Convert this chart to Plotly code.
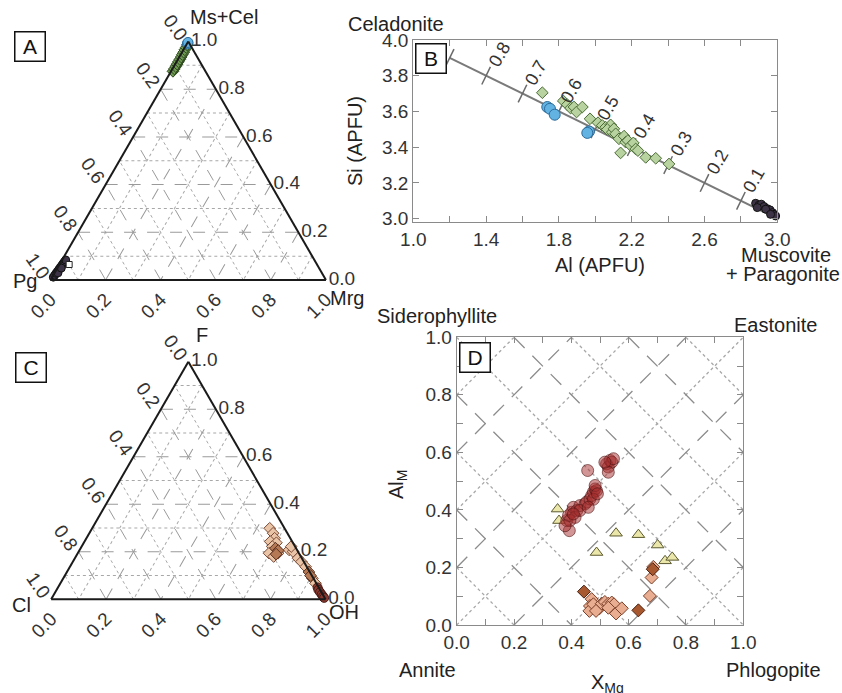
import plotly.graph_objects as go

W, H = 842, 693
FONT = "Liberation Sans, Arial, sans-serif"

# ---------------- Panel A (ternary: a = Ms+Cel, b = Pg, c = Mrg) ----------------
A_phe_mscel = [0.875, 0.885, 0.895, 0.905, 0.915, 0.925, 0.935, 0.945, 0.955, 0.965, 0.975, 0.985]
A_phe_pg    = [0.118, 0.108, 0.098, 0.088, 0.078, 0.068, 0.058, 0.049, 0.039, 0.030, 0.020, 0.011]
A_phe_mrg   = [0.007, 0.007, 0.007, 0.007, 0.007, 0.007, 0.007, 0.006, 0.006, 0.005, 0.005, 0.004]

A_blue_mscel = [0.993, 0.990, 0.996]
A_blue_pg    = [0.005, 0.008, 0.003]
A_blue_mrg   = [0.002, 0.002, 0.001]

A_par_mscel = [0.012, 0.020, 0.028, 0.036, 0.044, 0.052, 0.060, 0.068, 0.076, 0.084, 0.030, 0.050]
A_par_pg    = [0.984, 0.975, 0.966, 0.957, 0.948, 0.939, 0.930, 0.921, 0.912, 0.903, 0.958, 0.936]
A_par_mrg   = [0.004, 0.005, 0.006, 0.007, 0.008, 0.009, 0.010, 0.011, 0.012, 0.013, 0.012, 0.014]

A_open_mscel = [0.065]
A_open_pg    = [0.900]
A_open_mrg   = [0.035]

# ---------------- Panel B (Si vs Al, APFU) ----------------
B_phe_al = [1.709, 1.824, 1.846, 1.864, 1.883, 1.897, 1.929, 1.971, 2.015, 2.038, 2.057, 2.084,
            2.066, 2.093, 2.102, 2.112, 2.130, 2.139, 2.158, 2.167, 2.179, 2.194, 2.209, 2.222,
            2.234, 2.277, 2.332, 2.405]
B_phe_si = [3.705, 3.659, 3.638, 3.619, 3.625, 3.597, 3.625, 3.559, 3.537, 3.522, 3.512, 3.525,
            3.499, 3.484, 3.503, 3.475, 3.447, 3.368, 3.462, 3.428, 3.437, 3.409, 3.424, 3.390,
            3.381, 3.343, 3.338, 3.306]

B_blue_al = [1.736, 1.751, 1.777, 1.965, 1.956]
B_blue_si = [3.625, 3.615, 3.582, 3.488, 3.480]

B_par_al = [2.881, 2.899, 2.912, 2.927, 2.945, 2.960, 2.973, 2.982, 2.991, 2.890, 2.936, 2.963]
B_par_si = [3.086, 3.075, 3.081, 3.068, 3.056, 3.049, 3.034, 3.024, 3.015, 3.062, 3.053, 3.024]

# Tschermak reference line (celadonite fraction marks)
B_line_al = [1.2, 3.0]
B_line_si = [3.9, 3.0]
B_cel_marks = [0.9, 0.8, 0.7, 0.6, 0.5, 0.4, 0.3, 0.2, 0.1]
B_cel_labels = [0.8, 0.7, 0.6, 0.5, 0.4, 0.3, 0.2, 0.1]

B_xticks = [1.0, 1.4, 1.8, 2.2, 2.6, 3.0]
B_yticks = [3.0, 3.2, 3.4, 3.6, 3.8, 4.0]

# ---------------- Panel C (ternary: a = F, b = Cl, c = OH) ----------------
C_lt_f  = [0.299, 0.278, 0.257, 0.243, 0.238, 0.222, 0.208, 0.194, 0.194, 0.180, 0.208, 0.201,
           0.222, 0.173, 0.158, 0.137, 0.088, 0.067]
C_lt_cl = [0.054, 0.052, 0.057, 0.080, 0.060, 0.083, 0.081, 0.109, 0.076, 0.099, 0.029, 0.018,
           0.014, 0.014, 0.009, 0.004, 0.004, 0.003]
C_lt_oh = [0.647, 0.670, 0.686, 0.677, 0.702, 0.695, 0.711, 0.697, 0.730, 0.721, 0.763, 0.781,
           0.764, 0.813, 0.833, 0.859, 0.908, 0.930]

C_md_f  = [0.215, 0.205, 0.190, 0.115, 0.100]
C_md_cl = [0.075, 0.070, 0.085, 0.003, 0.005]
C_md_oh = [0.710, 0.725, 0.725, 0.882, 0.895]

C_dk_f  = [0.050, 0.040, 0.030, 0.020, 0.012, 0.006]
C_dk_cl = [0.004, 0.006, 0.005, 0.004, 0.003, 0.002]
C_dk_oh = [0.946, 0.954, 0.965, 0.976, 0.985, 0.992]

tern_ticks = [0.0, 0.2, 0.4, 0.6, 0.8, 1.0]
tern_ticktext = ["1.0", "0.8", "0.6", "0.4", "0.2", "0.0"]

# ---------------- Panel D (Al_M vs X_Mg) ----------------
D_circ_x = [0.393, 0.384, 0.390, 0.401, 0.407, 0.419, 0.430, 0.413, 0.395, 0.448, 0.453, 0.465,
            0.471, 0.477, 0.483, 0.488, 0.477, 0.483, 0.457, 0.523, 0.529, 0.535, 0.541, 0.547,
            0.529, 0.517, 0.430, 0.378, 0.407, 0.459, 0.491]
D_circ_y = [0.328, 0.363, 0.380, 0.392, 0.409, 0.398, 0.415, 0.374, 0.363, 0.421, 0.427, 0.438,
            0.450, 0.462, 0.473, 0.467, 0.437, 0.485, 0.537, 0.560, 0.549, 0.572, 0.566, 0.578,
            0.531, 0.566, 0.398, 0.345, 0.386, 0.409, 0.456]

D_tri_x = [0.352, 0.357, 0.488, 0.556, 0.634, 0.701, 0.727, 0.752]
D_tri_y = [0.403, 0.363, 0.252, 0.319, 0.314, 0.278, 0.223, 0.235]

D_dia_x = [0.471, 0.465, 0.463, 0.477, 0.498, 0.506, 0.517, 0.529, 0.541, 0.549, 0.556, 0.576,
           0.674, 0.680, 0.686, 0.486, 0.529]
D_dia_y = [0.090, 0.066, 0.049, 0.072, 0.058, 0.074, 0.080, 0.074, 0.078, 0.072, 0.040, 0.058,
           0.101, 0.165, 0.202, 0.049, 0.060]
D_diadk_x = [0.444, 0.634, 0.684]
D_diadk_y = [0.116, 0.051, 0.194]

D_ticks = [0.0, 0.2, 0.4, 0.6, 0.8, 1.0]
D_dash_sums = [0.4, 0.8, 1.2, 1.6]
D_dash_diffs = [-0.6, -0.2, 0.2, 0.6]
D_dot_sums = [0.2, 0.6, 1.0, 1.4, 1.8]
D_dot_diffs = [-0.8, -0.4, 0.0, 0.4, 0.8]


def px(x):
    return x / W


def py(y):
    return 1 - y / H


fig = go.Figure()

# dotted-grid underlay ternaries (drawn first)
fig.add_trace(go.Scatterternary(a=[], b=[], c=[], subplot="ternary", showlegend=False))
fig.add_trace(go.Scatterternary(a=[], b=[], c=[], subplot="ternary3", showlegend=False))

# Panel A traces
fig.add_trace(go.Scatterternary(a=A_phe_mscel, b=A_phe_pg, c=A_phe_mrg, subplot="ternary2", mode="markers",
                                cliponaxis=False,
                                marker=dict(symbol="diamond", size=9, color="#6f9a52",
                                            line=dict(color="#2f4a20", width=1))))
fig.add_trace(go.Scatterternary(a=A_blue_mscel, b=A_blue_pg, c=A_blue_mrg, subplot="ternary2", mode="markers",
                                cliponaxis=False,
                                marker=dict(symbol="circle", size=10, color="#62b2e2",
                                            line=dict(color="#2d6d9c", width=1))))
fig.add_trace(go.Scatterternary(a=A_par_mscel, b=A_par_pg, c=A_par_mrg, subplot="ternary2", mode="markers",
                                cliponaxis=False,
                                marker=dict(symbol="circle", size=8, color="#3d3346",
                                            line=dict(color="#111111", width=1))))
fig.add_trace(go.Scatterternary(a=A_open_mscel, b=A_open_pg, c=A_open_mrg, subplot="ternary2", mode="markers",
                                cliponaxis=False,
                                marker=dict(symbol="square", size=6, color="white",
                                            line=dict(color="#222222", width=1))))

# Panel C traces
fig.add_trace(go.Scatterternary(a=C_lt_f, b=C_lt_cl, c=C_lt_oh, subplot="ternary4", mode="markers",
                                cliponaxis=False,
                                marker=dict(symbol="diamond", size=9, color="#eac4a6",
                                            line=dict(color="#7a4a35", width=1))))
fig.add_trace(go.Scatterternary(a=C_md_f, b=C_md_cl, c=C_md_oh, subplot="ternary4", mode="markers",
                                cliponaxis=False,
                                marker=dict(symbol="diamond", size=9, color="#b57a55",
                                            line=dict(color="#5a3020", width=1))))
fig.add_trace(go.Scatterternary(a=C_dk_f, b=C_dk_cl, c=C_dk_oh, subplot="ternary4", mode="markers",
                                cliponaxis=False,
                                marker=dict(symbol="circle", size=9, color="#8a3a30",
                                            line=dict(color="#4a1a15", width=1))))

# Panel B traces
fig.add_trace(go.Scatter(x=B_line_al, y=B_line_si, mode="lines", xaxis="x", yaxis="y",
                         line=dict(color="#7a7a7a", width=2), showlegend=False, hoverinfo="skip"))
mark_al = [3.0 - 2.0 * f for f in B_cel_marks]
mark_si = [3.0 + f for f in B_cel_marks]
fig.add_trace(go.Scatter(x=mark_al, y=mark_si, mode="markers", xaxis="x", yaxis="y",
                         marker=dict(symbol="line-ns", size=14, angle=26,
                                     line=dict(color="#6a6a6a", width=1.5)),
                         showlegend=False, hoverinfo="skip"))
fig.add_trace(go.Scatter(x=B_phe_al, y=B_phe_si, mode="markers", xaxis="x", yaxis="y", cliponaxis=False,
                         marker=dict(symbol="diamond", size=9, color="#b9d3a0",
                                     line=dict(color="#4a6b35", width=1)), showlegend=False))
fig.add_trace(go.Scatter(x=B_blue_al, y=B_blue_si, mode="markers", xaxis="x", yaxis="y", cliponaxis=False,
                         marker=dict(symbol="circle", size=11, color="#62b2e2",
                                     line=dict(color="#2d6d9c", width=1)), showlegend=False))
fig.add_trace(go.Scatter(x=B_par_al, y=B_par_si, mode="markers", xaxis="x", yaxis="y", cliponaxis=False,
                         marker=dict(symbol="circle", size=8, color="#3d3346",
                                     line=dict(color="#111111", width=1)), showlegend=False))

# Panel D traces
fig.add_trace(go.Scatter(x=D_tri_x, y=D_tri_y, mode="markers", xaxis="x2", yaxis="y2", cliponaxis=False,
                         marker=dict(symbol="triangle-up", size=11, color="#ebe6a9",
                                     line=dict(color="#5c5a30", width=1)), showlegend=False))
fig.add_trace(go.Scatter(x=D_dia_x, y=D_dia_y, mode="markers", xaxis="x2", yaxis="y2", cliponaxis=False,
                         marker=dict(symbol="diamond", size=10, color="#e9ad92",
                                     line=dict(color="#7a3f28", width=1)), showlegend=False))
fig.add_trace(go.Scatter(x=D_diadk_x, y=D_diadk_y, mode="markers", xaxis="x2", yaxis="y2", cliponaxis=False,
                         marker=dict(symbol="diamond", size=10, color="#a8582f",
                                     line=dict(color="#4a2010", width=1)), showlegend=False))
fig.add_trace(go.Scatter(x=D_circ_x, y=D_circ_y, mode="markers", xaxis="x2", yaxis="y2", cliponaxis=False,
                         marker=dict(symbol="circle", size=12, color="rgba(165,45,45,0.5)",
                                     line=dict(color="rgba(80,20,20,0.6)", width=1)), showlegend=False))

# ---- ternary layouts ----
dot_ax = dict(showline=False, showgrid=True, griddash="dot", gridcolor="#a8a8a8", gridwidth=1.2,
              tickmode="linear", tick0=0.1, dtick=0.2, showticklabels=False, ticks="",
              title=dict(text=""))
main_ax = dict(showline=True, linecolor="#1a1a1a", linewidth=2, showgrid=True, griddash="12px,11px",
               gridcolor="#9a9a9a", gridwidth=1.2, tickmode="array", tickvals=tern_ticks,
               ticktext=tern_ticktext, ticks="", tickfont=dict(size=19, color="#333333", family=FONT),
               title=dict(text=""))


def tern(dx, dy, main):
    if main:
        return dict(domain=dict(x=dx, y=dy), sum=1, bgcolor="rgba(0,0,0,0)",
                    aaxis=dict(main_ax, tickangle=55), baxis=dict(main_ax, tickangle=-45),
                    caxis=dict(main_ax, tickangle=0))
    return dict(domain=dict(x=dx, y=dy), sum=1, bgcolor="white",
                aaxis=dot_ax, baxis=dot_ax, caxis=dot_ax)


domA_x = [px(50.5), px(326.0)]
domA_y = [py(280.0), py(41.5)]
domC_x = [px(50.7), px(326.0)]
domC_y = [py(599.3), py(361.7)]

axis_common = dict(showgrid=False, zeroline=False, linecolor="#8a8a8a", linewidth=1.2, mirror="ticks",
                   ticks="inside", ticklen=6, tickcolor="#8a8a8a", tickwidth=1.2, automargin=False,
                   tickfont=dict(size=19, color="#333333", family=FONT))

shapes = []


def seg_sum(s):
    if s <= 1:
        return (0, s, s, 0)
    return (s - 1, 1, 1, s - 1)


def seg_diff(d):
    if d >= 0:
        return (d, 0, 1, 1 - d)
    return (0, -d, 1 + d, 1)


for s in D_dot_sums:
    x0, y0, x1, y1 = seg_sum(s)
    shapes.append(dict(type="line", xref="x2", yref="y2", x0=x0, y0=y0, x1=x1, y1=y1, layer="below",
                       line=dict(color="#a8a8a8", width=1.3, dash="dot")))
for d in D_dot_diffs:
    x0, y0, x1, y1 = seg_diff(d)
    shapes.append(dict(type="line", xref="x2", yref="y2", x0=x0, y0=y0, x1=x1, y1=y1, layer="below",
                       line=dict(color="#a8a8a8", width=1.3, dash="dot")))
for s in D_dash_sums:
    x0, y0, x1, y1 = seg_sum(s)
    shapes.append(dict(type="line", xref="x2", yref="y2", x0=x0, y0=y0, x1=x1, y1=y1, layer="below",
                       line=dict(color="#8c8c8c", width=1.3, dash="15px,11px")))
for d in D_dash_diffs:
    x0, y0, x1, y1 = seg_diff(d)
    shapes.append(dict(type="line", xref="x2", yref="y2", x0=x0, y0=y0, x1=x1, y1=y1, layer="below",
                       line=dict(color="#8c8c8c", width=1.3, dash="15px,11px")))

ann = []


def txt(x, y, t, size=20, color="#222222", angle=0, xanchor="center", yanchor="middle"):
    ann.append(dict(x=px(x), y=py(y), xref="paper", yref="paper", text=t, showarrow=False,
                    font=dict(size=size, color=color, family=FONT), textangle=angle,
                    xanchor=xanchor, yanchor=yanchor))


def box(x, y, t):
    ann.append(dict(x=px(x), y=py(y), xref="paper", yref="paper", text=t, showarrow=False,
                    font=dict(size=21, color="#111111", family=FONT), width=25, height=24,
                    bordercolor="#111111", borderwidth=1.5, borderpad=2, bgcolor="white",
                    xanchor="center", yanchor="middle"))


box(30, 46, "A")
box(431, 58, "B")
box(31, 367, "C")
box(475, 357, "D")

# vertex labels
txt(224, 17, "Ms+Cel")
txt(25, 281, "Pg")
txt(347, 298, "Mrg")
txt(202, 335, "F")
txt(21, 605, "Cl")
txt(344, 612, "OH")

# panel B labels
txt(396, 24, "Celadonite")
txt(786, 255, "Muscovite")
txt(783, 274, "+ Paragonite")
txt(600, 265, "Al (APFU)")
txt(355, 141, "Si (APFU)", angle=-90)

for f in B_cel_labels:
    ann.append(dict(x=3.0 - 2.0 * f, y=3.0 + f, xref="x", yref="y", text=f"{f:.1f}", showarrow=False,
                    font=dict(size=18, color="#333333", family=FONT), textangle=-60,
                    xshift=13, yshift=21))

# panel D labels
txt(437, 316, "Siderophyllite")
txt(775, 325, "Eastonite")
txt(427, 670, "Annite")
txt(773, 670, "Phlogopite")
txt(607, 683, "X<sub>Mg</sub>")
txt(397, 485, "Al<sub>M</sub>", angle=-90)

fig.update_layout(
    width=W, height=H, margin=dict(l=0, r=0, t=0, b=0, pad=0, autoexpand=False),
    paper_bgcolor="white", plot_bgcolor="white", showlegend=False,
    font=dict(family=FONT, size=19, color="#333333"),
    ternary=tern(domA_x, domA_y, False),
    ternary2=tern(domA_x, domA_y, True),
    ternary3=tern(domC_x, domC_y, False),
    ternary4=tern(domC_x, domC_y, True),
    xaxis=dict(axis_common, domain=[px(413.3), px(777.3)], range=[1.0, 3.0], anchor="y",
               tickmode="array", tickvals=B_xticks, ticktext=[f"{v:.1f}" for v in B_xticks],
               minor=dict(dtick=0.2, tick0=1.0, ticks="inside", ticklen=6, tickcolor="#8a8a8a")),
    yaxis=dict(axis_common, domain=[py(221.7), py(40.0)], range=[2.983, 4.0], anchor="x",
               tickmode="array", tickvals=B_yticks, ticktext=[f"{v:.1f}" for v in B_yticks]),
    xaxis2=dict(axis_common, domain=[px(456.7), px(743.3)], range=[0, 1], anchor="y2",
                tickmode="array", tickvals=D_ticks, ticktext=[f"{v:.1f}" for v in D_ticks],
                minor=dict(dtick=0.1, tick0=0, ticks="inside", ticklen=6, tickcolor="#8a8a8a")),
    yaxis2=dict(axis_common, domain=[py(625.0), py(337.3)], range=[0, 1], anchor="x2",
                tickmode="array", tickvals=D_ticks, ticktext=[f"{v:.1f}" for v in D_ticks],
                minor=dict(dtick=0.1, tick0=0, ticks="inside", ticklen=6, tickcolor="#8a8a8a")),
    shapes=shapes,
    annotations=ann,
)

fig.write_html("out.html", config={"displayModeBar": False},
               post_script="document.body.style.margin='0px';")
